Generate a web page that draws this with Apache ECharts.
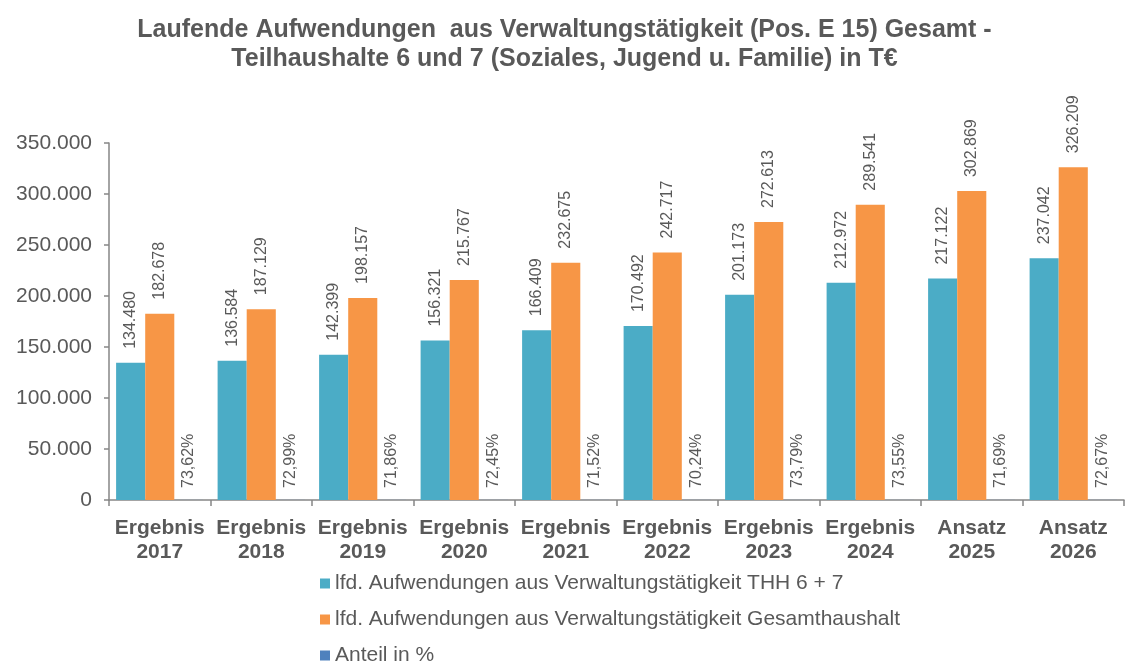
<!DOCTYPE html>
<html>
<head>
<meta charset="utf-8">
<script src="https://cdn.jsdelivr.net/npm/echarts@6/dist/echarts.min.js"></script>
<style>
  html, body { margin: 0; padding: 0; background: #fff; }
  #chart { width: 1129px; height: 664px; }
</style>
</head>
<body>
<div id="chart"></div>
<script>
const categories = ['Ergebnis\n2017', 'Ergebnis\n2018', 'Ergebnis\n2019', 'Ergebnis\n2020', 'Ergebnis\n2021',
  'Ergebnis\n2022', 'Ergebnis\n2023', 'Ergebnis\n2024', 'Ansatz\n2025', 'Ansatz\n2026'];
const thh67 = [134480, 136584, 142399, 156321, 166409, 170492, 201173, 212972, 217122, 237042];
const gesamt = [182678, 187129, 198157, 215767, 232675, 242717, 272613, 289541, 302869, 326209];
const anteil = [73.62, 72.99, 71.86, 72.45, 71.52, 70.24, 73.79, 73.55, 71.69, 72.67];
const yTicks = [0, 50000, 100000, 150000, 200000, 250000, 300000, 350000];

const seriesNames = [
  'lfd. Aufwendungen aus Verwaltungstätigkeit THH 6 + 7',
  'lfd. Aufwendungen aus Verwaltungstätigkeit Gesamthaushalt',
  'Anteil in %'
];

// Tausenderpunkt wie im Original
function fmtDe(v) {
  return String(Math.round(v)).replace(/\B(?=(\d{3})+(?!\d))/g, '.');
}

const font = 'Liberation Sans, Arial, sans-serif';
const grey = '#595959';

const myChart = echarts.init(document.getElementById('chart'));

const valueLabel = {
  show: true,
  position: 'top',
  rotate: 90,
  align: 'left',
  verticalAlign: 'middle',
  distance: 14,
  color: grey,
  fontSize: 16,
  fontFamily: font,
  formatter: p => fmtDe(p.value)
};

const option = {
  animation: false,
  title: {
    text: 'Laufende Aufwendungen  aus Verwaltungstätigkeit (Pos. E 15) Gesamt -\nTeilhaushalte 6 und 7 (Soziales, Jugend u. Familie) in T€',
    left: 'center',
    top: 11,
    textStyle: {
      color: grey,
      fontSize: 25,
      fontWeight: 'bold',
      fontFamily: font,
      lineHeight: 29
    }
  },
  legend: {
    orient: 'vertical',
    left: 320,
    top: 573,
    height: 120,
    padding: 0,
    itemWidth: 10,
    itemHeight: 10,
    itemGap: 15,
    icon: 'rect',
    textStyle: { color: grey, fontSize: 21, lineHeight: 21, fontFamily: font },
    data: seriesNames
  },
  grid: {
    left: 109,
    right: 5,
    top: 143,
    bottom: 164,
    containLabel: false
  },
  xAxis: {
    type: 'category',
    data: categories,
    axisLine: { lineStyle: { color: '#868686', width: 1.5 } },
    axisTick: { show: true, length: 6, lineStyle: { color: '#868686', width: 1.5 } },
    axisLabel: {
      color: grey,
      fontSize: 21,
      fontWeight: 'bold',
      fontFamily: font,
      lineHeight: 24,
      margin: 16,
      interval: 0
    }
  },
  yAxis: {
    type: 'value',
    min: 0,
    max: 350000,
    interval: 50000,
    splitLine: { show: false },
    axisLine: { show: true, lineStyle: { color: '#868686', width: 1.5 } },
    axisTick: { show: true, length: 5, lineStyle: { color: '#868686', width: 1.5 } },
    axisLabel: {
      color: grey,
      fontSize: 21,
      fontFamily: font,
      margin: 17,
      formatter: v => yTicks.indexOf(v) >= 0 ? fmtDe(v) : ''
    }
  },
  series: [
    {
      name: seriesNames[0],
      type: 'bar',
      data: thh67,
      barGap: '0%',
      barCategoryGap: '14%',
      itemStyle: { color: '#4BACC6' },
      label: valueLabel
    },
    {
      name: seriesNames[1],
      type: 'bar',
      data: gesamt,
      barGap: '0%',
      barCategoryGap: '14%',
      itemStyle: { color: '#F79646' },
      label: valueLabel
    },
    {
      name: seriesNames[2],
      type: 'bar',
      data: anteil,
      barGap: '0%',
      barCategoryGap: '14%',
      itemStyle: { color: '#4F81BD' },
      label: {
        show: true,
        position: 'top',
        rotate: 90,
        align: 'left',
        verticalAlign: 'middle',
        distance: 12,
        color: grey,
        fontSize: 16,
        fontFamily: font,
        formatter: p => p.value.toFixed(2).replace('.', ',') + '%'
      }
    }
  ]
};

myChart.setOption(option);
</script>
</body>
</html>
